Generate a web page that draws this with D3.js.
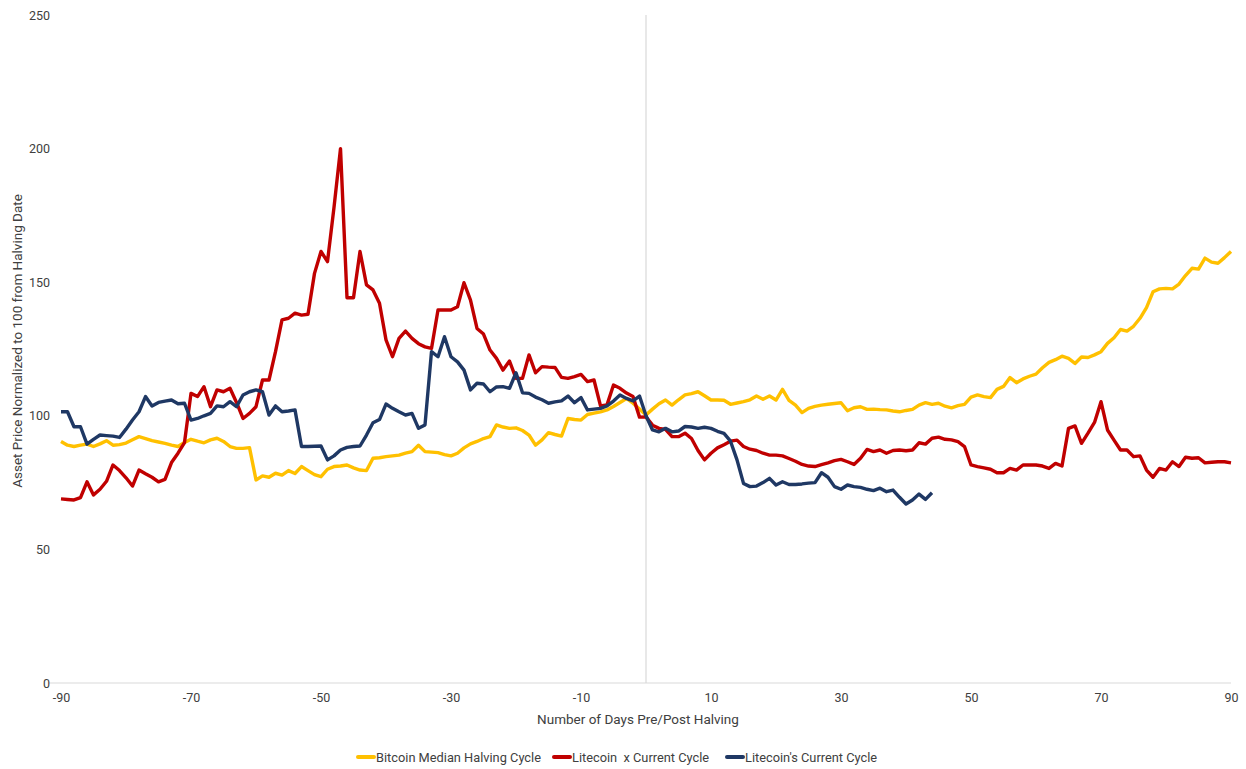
<!DOCTYPE html>
<html><head><meta charset="utf-8">
<script src="https://cdn.jsdelivr.net/npm/d3@7"></script>
<style>
html,body{margin:0;padding:0;background:#fff;}
svg{display:block;font-family:Roboto,"Noto Sans",sans-serif;}
</style></head>
<body><svg id="chart" width="1246" height="769"></svg>
<script>
const xTicks = [-90,-70,-50,-30,-10,10,30,50,70,90];
const yTicks = [0,50,100,150,200,250];
const seriesNames = ["Bitcoin Median Halving Cycle","Litecoin\u00A0 x Current Cycle","Litecoin's Current Cycle"];
const seriesColors = ["#FFC000","#C00000","#1F3864"];
const btcStart = -90;
const btcMedian = [90.4,89.0,88.5,89,89.4,88.5,89.5,90.7,89,89.2,89.8,91,92.2,91.5,90.7,90.2,89.7,89,88.5,90,
91.2,90.5,89.9,91,91.6,90.4,88.5,87.8,87.8,88.1,76,77.5,77,78.5,77.8,79.5,78.4,81,79.5,78,
77.2,80,81,81.2,81.6,80.5,79.7,79.5,84.1,84.3,84.7,85,85.3,86,86.6,89,86.6,86.4,86.2,85.5,
85,86,88,89.5,90.4,91.5,92.2,96.6,95.8,95.3,95.5,94.5,92.8,89,91,93.7,93,92.4,99,98.6,
98.4,100.5,101,101.5,102.2,103.5,105,106.5,104.7,102.5,100.3,102.5,104.5,105.9,104,106,107.8,108.3,109,107.5,
105.9,105.9,105.8,104.3,104.8,105.3,106,107.4,106.2,107.4,105.9,109.9,105.8,104,101.2,102.8,103.5,104,104.3,104.6,
104.9,101.9,103,103.4,102.4,102.5,102.3,102.2,101.8,101.5,102,102.4,104,104.9,104.3,104.7,103.6,103,103.8,104.3,
107,107.8,107.2,106.8,109.9,111,114.3,112.4,113.8,114.8,115.6,118,120,121,122.3,121.5,119.6,122,121.8,122.8,
124,127.1,129.2,132.3,131.7,133.5,136.5,140.5,146.4,147.5,147.7,147.5,149.3,152.5,155.2,154.9,159,157.5,157.1,159.2,
161.5];
const ltcX = [68.9,68.7,68.5,69.4,75.3,70.4,72.5,75.5,81.6,79.5,76.8,73.7,79.7,78.3,77,75.3,76.2,82.5,86,90,
108.4,107.2,110.9,103.4,109.7,109,110.3,105,99,100.9,103.4,113.4,113.4,124,135.9,136.5,138.4,137.7,138,153.3,
161.5,157.7,178,200,144.2,144.2,161.5,149,147.1,142.1,128.4,122.1,129,131.7,129,127,125.8,125.2,139.6,139.6,
139.6,140.8,149.8,143.3,132.7,130.6,124.6,121.5,117.1,120.5,114,114,122.8,116.1,118.4,118.2,118.1,114.4,114,114.7,
115.5,112.8,113.4,103.7,104.1,111.5,110.3,108.5,107.2,99.5,99.6,96.5,95.3,94.9,92.2,92.2,93.5,91.5,87,83.5,
86,88,89.2,90.5,90.9,88.5,87.5,87,86,85.3,85.3,85,84,83,81.8,81.2,81,81.7,82.4,83.2,
83.7,82.8,81.8,84.1,87.4,86.6,87.2,86,87,87.2,86.9,87.2,89.9,89.4,91.6,92,91.2,91,90.3,88.5,
81.6,81,80.5,80,78.7,78.7,80.3,79.7,81.6,81.6,81.6,81.2,80.3,82.2,81.2,95.3,96.2,89.7,93.5,97.5,
105.3,94.7,90.9,87.2,87.2,84.7,85,79.7,77,80.3,79.7,82.8,81,84.5,84.1,84.3,82.4,82.6,82.8,82.8,
82.4];
const ltcCurrent = [101.5,101.5,95.9,95.9,89.4,91.2,92.8,92.6,92.4,91.9,95,98.4,101.5,107.2,103.7,105,105.5,105.9,104.5,104.7,
98.4,99,100,100.9,103.7,103.4,105.3,103.4,107.8,109,109.7,109,100.3,103.7,101.5,101.8,102.2,88.5,88.5,88.6,
88.7,83.5,85,87.2,88.2,88.5,88.7,92.8,97.4,98.6,104.4,102.8,101.5,100.3,100.9,95.3,96.6,124,122.1,129.6,
122.1,120.2,117.1,109.7,112.2,111.9,109,110.8,110.9,110.3,116.1,108.6,108.4,107,106,104.7,105.2,105.6,107.4,104.9,
106.8,102.2,102.5,102.8,103.7,105.5,107.8,106.5,105.6,107.4,100,94.7,94,95.3,94,94.3,96,95.8,95.3,95.7,
95.3,94.2,93.4,90.5,83.5,74.7,73.5,73.7,75,76.6,74.1,75.3,74.3,74.3,74.5,74.8,75,78.7,77,73.5,
72.5,74.1,73.5,73.2,72.5,72,72.9,71.6,72.2,69.5,67,68.5,70.7,68.7,71.2];
const allSeries = [btcMedian, ltcX, ltcCurrent];

const svg = d3.select("#chart");
const x = d3.scaleLinear().domain([-90,90]).range([61,1231]);
const y = d3.scaleLinear().domain([0,250]).range([683,15]);

svg.append("line").attr("x1",x(-90)-12).attr("x2",x(90)).attr("y1",y(0)).attr("y2",y(0))
  .attr("stroke","#d9d9d9").attr("stroke-width",1.2);
svg.append("line").attr("x1",x(0)).attr("x2",x(0)).attr("y1",y(250)).attr("y2",y(0))
  .attr("stroke","#d9d9d9").attr("stroke-width",1.2);

const yAxis = svg.append("g").attr("transform",`translate(${x(-90)},0)`)
  .call(d3.axisLeft(y).tickValues(yTicks).tickFormat(d=>String(d)).tickSize(0).tickPadding(11));
yAxis.select(".domain").remove();
yAxis.selectAll("text").attr("font-size",12.5).attr("fill","#404040").attr("font-family","Roboto");

const xAxis = svg.append("g").attr("transform",`translate(0,${y(0)})`)
  .call(d3.axisBottom(x).tickValues(xTicks).tickFormat(d=>String(d)).tickSize(0).tickPadding(10));
xAxis.select(".domain").remove();
xAxis.selectAll("text").attr("font-size",12.5).attr("fill","#404040").attr("font-family","Roboto");

svg.append("text").attr("x",638).attr("y",724).attr("text-anchor","middle")
  .attr("font-size",13.5).attr("fill","#404040").text("Number of Days Pre/Post Halving");
svg.append("text").attr("transform","translate(22,341) rotate(-90)").attr("text-anchor","middle")
  .attr("font-size",13.5).attr("fill","#404040").text("Asset Price Normalized to 100 from Halving Date");

const line = d3.line().x((d,i)=>x(btcStart+i)).y(d=>y(d));
allSeries.forEach((s,k)=>{
  svg.append("path").datum(s).attr("d",line).attr("fill","none")
    .attr("stroke",seriesColors[k]).attr("stroke-width",3.4)
    .attr("stroke-linejoin","round").attr("stroke-linecap","butt");
});

const legX = [358,554,727];
const leg = svg.append("g");
seriesNames.forEach((n,k)=>{
  const g = leg.append("g").attr("transform",`translate(${legX[k]},757)`);
  g.append("line").attr("x1",0).attr("x2",16).attr("y1",0).attr("y2",0)
    .attr("stroke",seriesColors[k]).attr("stroke-width",4).attr("stroke-linecap","round");
  g.append("text").attr("x",18).attr("y",4.5).attr("font-size",12.8).attr("fill","#404040")
    .style("white-space","pre").text(n);
});
</script></body></html>
